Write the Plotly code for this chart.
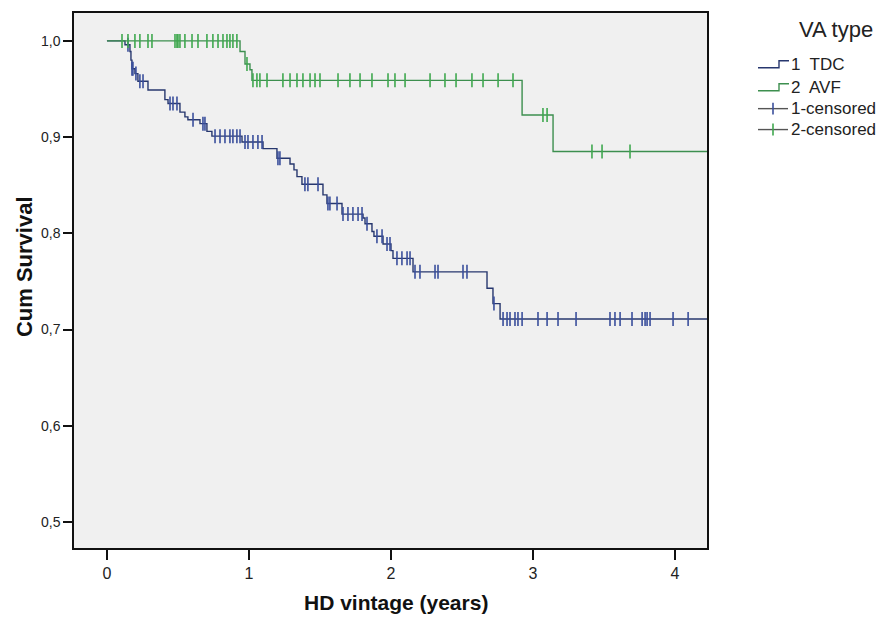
import numpy as np
import plotly.graph_objects as go

# ---------------- data ----------------
tdc_event_times = [0.127, 0.162, 0.169, 0.176, 0.197, 0.218, 0.289, 0.408, 0.430, 0.514,
                   0.549, 0.570, 0.655, 0.704, 0.739, 0.951, 1.099, 1.197, 1.289, 1.317,
                   1.338, 1.373, 1.521, 1.549, 1.655, 1.803, 1.817, 1.866, 1.880, 1.944,
                   2.000, 2.014, 2.155, 2.676, 2.718, 2.768]
tdc_survival = [0.996, 0.989, 0.980, 0.971, 0.966, 0.958, 0.949, 0.939, 0.935, 0.926,
                0.921, 0.918, 0.914, 0.906, 0.901, 0.895, 0.888, 0.878, 0.872, 0.866,
                0.859, 0.851, 0.840, 0.831, 0.820, 0.816, 0.810, 0.802, 0.797, 0.789,
                0.782, 0.774, 0.760, 0.743, 0.727, 0.711]
tdc_censored = [0.148, 0.176, 0.183, 0.204, 0.232, 0.254, 0.444, 0.465, 0.493, 0.606,
                0.676, 0.690, 0.761, 0.796, 0.831, 0.866, 0.887, 0.915, 0.937, 0.972,
                0.993, 1.028, 1.063, 1.092, 1.204, 1.218, 1.394, 1.415, 1.486, 1.556,
                1.570, 1.620, 1.662, 1.697, 1.732, 1.768, 1.796, 1.831, 1.901, 1.937,
                1.972, 1.993, 2.042, 2.077, 2.113, 2.134, 2.169, 2.204, 2.310, 2.331,
                2.507, 2.535, 2.725, 2.789, 2.817, 2.838, 2.873, 2.894, 2.923, 3.035,
                3.099, 3.176, 3.303, 3.542, 3.577, 3.613, 3.697, 3.768, 3.789, 3.803,
                3.824, 3.986, 4.092]
tdc_followup_end = 4.23

avf_event_times = [0.937, 0.972, 1.007, 1.021, 2.923, 3.141]
avf_survival = [0.989, 0.976, 0.970, 0.959, 0.923, 0.885]
avf_censored = [0.106, 0.148, 0.197, 0.232, 0.289, 0.317, 0.479, 0.493, 0.500, 0.514,
                0.549, 0.599, 0.641, 0.704, 0.746, 0.782, 0.817, 0.845, 0.866, 0.887,
                0.915, 0.986, 1.028, 1.056, 1.077, 1.127, 1.239, 1.289, 1.338, 1.380,
                1.430, 1.465, 1.500, 1.627, 1.711, 1.782, 1.866, 1.979, 2.028, 2.099,
                2.275, 2.380, 2.458, 2.570, 2.648, 2.754, 2.859, 3.070, 3.099, 3.415,
                3.486, 3.683]
avf_followup_end = 4.23

y_tick_vals = [0.5, 0.6, 0.7, 0.8, 0.9, 1.0]
y_tick_text = ["0,5", "0,6", "0,7", "0,8", "0,9", "1,0"]
x_tick_vals = [0, 1, 2, 3, 4]
x_tick_text = ["0", "1", "2", "3", "4"]

FONT = "Liberation Sans, Arial, sans-serif"
TDC_LINE, TDC_MARK = "#27376e", "#3a4f9c"
AVF_LINE, AVF_MARK = "#3d8f4f", "#3fa84f"

def step_xy(times, surv, end):
    x = [0.0] + list(times) + [end]
    y = [1.0] + list(surv) + [surv[-1]]
    return x, y

def surv_at(times, surv, t):
    idx = np.searchsorted(np.array(times), np.array(t), side="right")
    return np.r_[1.0, surv][idx]

fig = go.Figure()
for times, surv, cens, end, lc, mc in [
    (tdc_event_times, tdc_survival, tdc_censored, tdc_followup_end, TDC_LINE, TDC_MARK),
    (avf_event_times, avf_survival, avf_censored, avf_followup_end, AVF_LINE, AVF_MARK),
]:
    sx, sy = step_xy(times, surv, end)
    fig.add_trace(go.Scatter(x=sx, y=sy, mode="lines", line=dict(color=lc, width=1.4, shape="hv"),
                             showlegend=False, hoverinfo="skip"))
    fig.add_trace(go.Scatter(x=cens, y=surv_at(times, surv, cens), mode="markers",
                             marker=dict(symbol="line-ns", size=10, line=dict(color=mc, width=1.6)),
                             showlegend=False, hoverinfo="skip"))

W, H = 885, 618
L, R, T, B = 74, 707, 11, 548

def px(xp):
    return (xp - L) / (R - L)

def py(yp):
    return (B - yp) / (B - T)

shapes = []
annotations = []
# legend title
annotations.append(dict(x=px(836), y=py(28), xref="paper", yref="paper", text="VA type",
                        showarrow=False, font=dict(family=FONT, size=22, color="#222"),
                        xanchor="center", yanchor="middle"))
legend_items = [("1  TDC", TDC_LINE, None, 63), ("2  AVF", AVF_LINE, None, 86),
                ("1-censored", "#555", TDC_MARK, 107), ("2-censored", "#555", AVF_MARK, 128)]
for label, lc, mc, yc in legend_items:
    if mc is None:
        pts = [(758, yc + 3), (779, yc + 3), (779, yc - 4), (789, yc - 4)]
        path = "M " + " L ".join(f"{px(a)},{py(b)}" for a, b in pts)
        shapes.append(dict(type="path", path=path, xref="paper", yref="paper",
                           line=dict(color=lc, width=1.4)))
    else:
        shapes.append(dict(type="line", x0=px(758), x1=px(788), y0=py(yc), y1=py(yc),
                           xref="paper", yref="paper", line=dict(color=lc, width=1.4)))
        shapes.append(dict(type="line", x0=px(773), x1=px(773), y0=py(yc - 6), y1=py(yc + 6),
                           xref="paper", yref="paper", line=dict(color=mc, width=1.6)))
    annotations.append(dict(x=px(789), y=py(yc), xref="paper", yref="paper", text=label,
                            showarrow=False, font=dict(family=FONT, size=17, color="#222"),
                            xanchor="left", yanchor="middle"))
# axis titles
annotations.append(dict(x=px(396), y=py(603), xref="paper", yref="paper",
                        text="<b>HD vintage (years)</b>", showarrow=False,
                        font=dict(family=FONT, size=21, color="#111"),
                        xanchor="center", yanchor="middle"))
annotations.append(dict(x=px(24), y=py(266), xref="paper", yref="paper",
                        text="<b>Cum Survival</b>", showarrow=False, textangle=-90,
                        font=dict(family=FONT, size=22, color="#111"),
                        xanchor="center", yanchor="middle"))

fig.update_layout(
    width=W, height=H,
    margin=dict(l=L, r=W - R, t=T, b=H - B, pad=0),
    paper_bgcolor="white", plot_bgcolor="#f0f0f0",
    shapes=shapes, annotations=annotations, showlegend=False,
    font=dict(family=FONT, color="#222"),
)
fig.update_xaxes(range=[-0.232, 4.225], tickvals=x_tick_vals, ticktext=x_tick_text,
                 ticks="outside", ticklen=10, tickwidth=1.5, tickcolor="#111",
                 showline=True, mirror=True, linecolor="#111", linewidth=1.5,
                 showgrid=False, zeroline=False, tickfont=dict(family=FONT, size=16, color="#222"))
fig.update_yaxes(range=[0.473, 1.029], tickvals=y_tick_vals, ticktext=y_tick_text,
                 ticks="outside", ticklen=9, tickwidth=1.5, tickcolor="#111",
                 showline=True, mirror=True, linecolor="#111", linewidth=1.5,
                 showgrid=False, zeroline=False, tickfont=dict(family=FONT, size=14, color="#222"))

fig.write_html("out.html", config={"displayModeBar": False},
               post_script="document.body.style.margin='0px';document.body.style.overflow='hidden';")
